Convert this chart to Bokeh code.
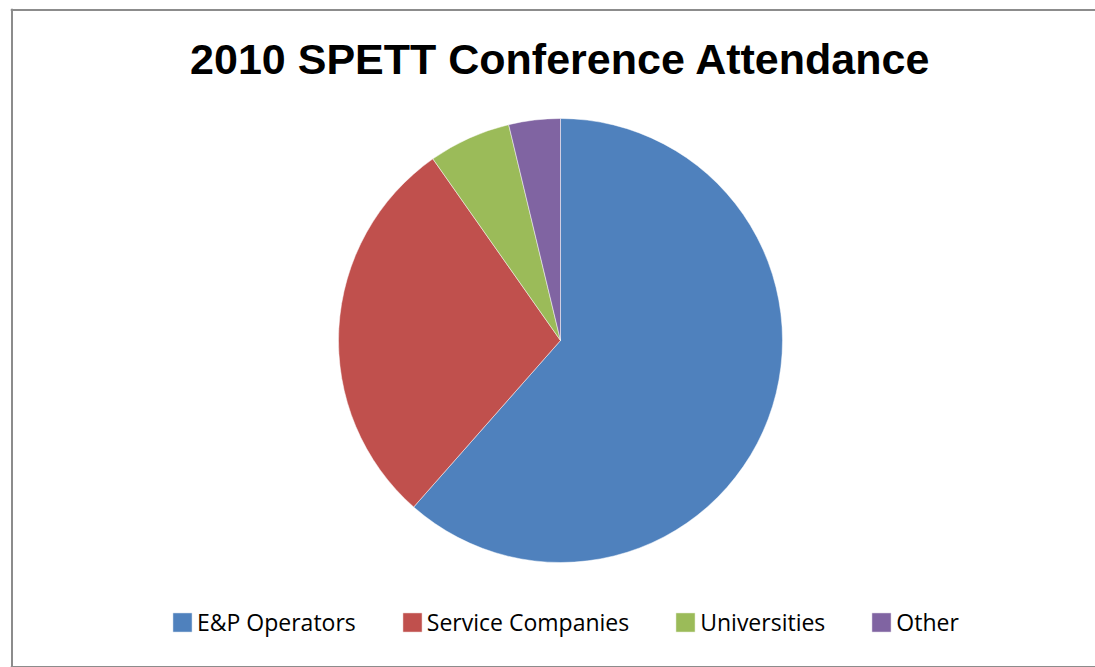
import math
from bokeh.plotting import figure
from bokeh.models import ColumnDataSource, Range1d, Label, Span
from bokeh.embed import file_html
from bokeh.resources import INLINE

categories = ["E&P Operators", "Service Companies", "Universities", "Other"]
shares = [61.5, 28.75, 6.0, 3.75]
colors = ["#4F81BD", "#C0504D", "#9BBB59", "#8064A2"]

total = sum(shares)
starts, ends = [], []
acc = 0.0
for s in shares:
    starts.append(math.pi / 2 - 2 * math.pi * acc / total)
    acc += s
    ends.append(math.pi / 2 - 2 * math.pi * acc / total)

src = ColumnDataSource(dict(label=categories, value=shares, color=colors,
                            start=starts, end=ends))

W, H = 1095, 667
p = figure(width=W, height=H, output_backend="svg", toolbar_location=None,
           x_range=Range1d(0, 1085), y_range=Range1d(0, 659),
           min_border_left=10, min_border_top=8, min_border_bottom=0, min_border_right=0,
           tools="")
p.axis.visible = False
p.xgrid.visible = False
p.ygrid.visible = False
p.outline_line_color = None
p.background_fill_color = "white"
p.border_fill_color = "white"

for loc, dim in [(1.5, "height"), (657.5, "width"), (0.5, "width")]:
    p.add_layout(Span(location=loc, dimension=dim, line_color="#8C8C8C", line_width=2))

p.wedge(x=550, y=327, radius=222, start_angle="start", end_angle="end",
        direction="clock", fill_color="color", line_color="white",
        line_width=0.8, line_alpha=0.6, legend_field="label", source=src)

title = Label(x=550, y=609, text="2010 SPETT Conference Attendance",
              text_align="center", text_baseline="alphabetic",
              text_font="Liberation Sans", text_font_style="bold",
              text_font_size="43px", text_color="black")
p.add_layout(title)

lg = p.legend[0]
lg.orientation = "horizontal"
lg.location = (160, 29)
lg.padding = 0
lg.margin = 0
lg.spacing = 44
lg.glyph_width = 24
lg.glyph_height = 24
lg.label_height = 24
lg.label_standoff = 3
lg.label_text_font = "Open Sans"
lg.label_text_font_size = "23px"
lg.label_text_color = "black"
lg.border_line_color = None
lg.background_fill_alpha = 0

open("out.html", "w").write(file_html(p, INLINE))
